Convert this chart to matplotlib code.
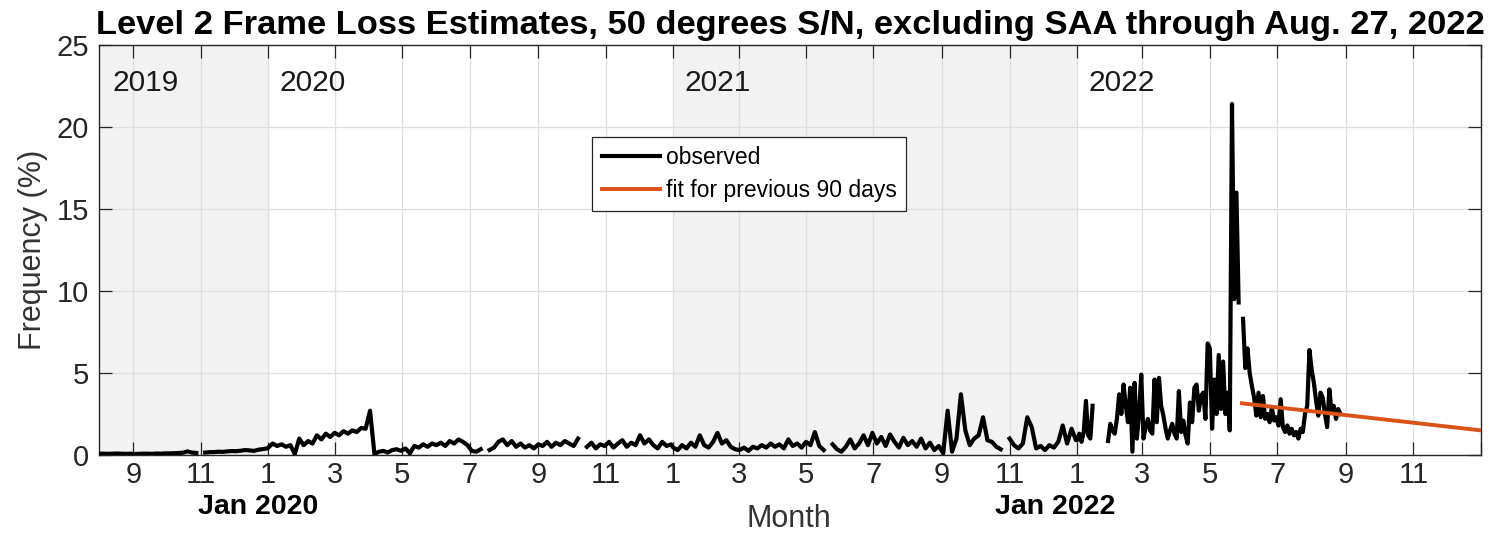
import numpy as np
import pandas as pd
import matplotlib
matplotlib.use('Agg')
import matplotlib.pyplot as plt
import matplotlib.dates as mdates
from matplotlib.ticker import FuncFormatter, MultipleLocator

plt.rcParams['font.family'] = ['Liberation Sans', 'DejaVu Sans']

# frame loss (%) sampled every 4 days through 2021, every 2 days in 2022
# nan = no data for that day
loss_2019 = [0.08, 0.08, 0.07, 0.08, 0.09, 0.08, 0.07, 0.08,
             0.06, 0.07, 0.08, 0.08, 0.07, 0.09, 0.08, 0.10,
             0.10, 0.11, 0.12, 0.14, 0.22, 0.15, 0.12, np.nan,
             0.15, 0.17, 0.18, 0.20, 0.19, 0.22, 0.24, 0.23,
             0.26, 0.30, 0.28, 0.25, 0.32, 0.36, 0.40]

loss_2020 = [0.45, 0.70, 0.55, 0.65, 0.50, 0.60, 0.05, 1.00,
             0.60, 0.85, 0.70, 1.20, 0.95, 1.30, 1.10,
             1.35, 1.20, 1.45, 1.30, 1.50, 1.40, 1.65, 1.60, 2.70,
             0.05, 0.20, 0.25, 0.15, 0.30, 0.35, 0.25,
             0.40, 0.10, 0.55, 0.45, 0.65, 0.50, 0.70,
             0.60, 0.75, 0.55, 0.85, 0.70, 0.95, 0.80, 0.60,
             0.25, 0.20, 0.35, np.nan, 0.30, 0.45, 0.80,
             0.95, 0.60, 0.85, 0.50, 0.70, 0.45, 0.60, 0.40,
             0.65, 0.55, 0.80, 0.50, 0.75, 0.60, 0.85, 0.70,
             0.55, 1.00, np.nan, 0.50, 0.75, 0.40, 0.65, 0.55,
             0.80, 0.45, 0.70, 0.90, 0.50, 0.75, 0.60,
             1.20, 0.70, 0.95, 0.60, 0.40, 0.80, 0.55, 0.65]

loss_2021 = [0.45, 0.30, 0.60, 0.40, 0.75, 0.50, 1.20, 0.60,
             0.45, 0.80, 1.35, 0.70, 0.90, 0.50, 0.35,
             0.30, 0.45, 0.25, 0.50, 0.40, 0.60, 0.45, 0.70,
             0.50, 0.65, 0.40, 0.95, 0.55, 0.70, 0.45,
             0.80, 0.60, 1.40, 0.55, 0.30, np.nan, 0.65, 0.35,
             0.20, 0.50, 0.95, 0.40, 0.70, 1.20, 0.60, 1.35,
             0.70, 1.10, 0.55, 1.25, 0.80, 0.45, 1.05, 0.60,
             0.85, 0.50, 1.00, 0.40, 0.75, 0.30, 0.55, 0.10,
             2.70, 0.20, 1.00, 3.70, 1.50, 0.60, 1.00,
             1.20, 2.30, 0.90, 0.80, 0.50, 0.35, np.nan, 1.00,
             0.60, 0.40, 0.70, 2.30, 1.70, 0.40, 0.55,
             0.30, 0.60, 0.45, 0.80, 1.80, 0.70, 1.60, 0.90]

loss_2022 = [0.9, 1.3, 0.8, 1.4, 3.3, 1.2, 1.0, 3.0, np.nan, np.nan,
             np.nan, np.nan, np.nan, np.nan, 0.85, 1.9, 1.5, 1.3, 2.2, 3.7,
             2.5, 4.3, 3.0, 2.0, 4.1, 0.2, 4.4, 1.0, 2.5, 4.9,
             1.0, 1.7, 2.2, 1.5, 1.3, 4.6, 2.0, 4.7, 3.0, 2.4,
             1.6, 1.0, 1.5, 1.9, 1.3, 1.0, 3.9, 1.4, 2.1, 1.2,
             0.7, 3.2, 2.0, 4.1, 4.3, 2.7, 3.6, 3.8, 2.2, 6.8,
             6.5, 1.6, 4.6, 2.5, 6.1, 2.8, 5.7, 2.5, 3.8, 1.5,
             21.4, 9.5, 16.0, 9.3, np.nan, 8.3, 5.3, 6.5, 5.0, 4.2,
             3.5, 2.4, 3.8, 2.3, 3.6, 2.2, 2.5, 2.0, 2.9, 2.1,
             2.3, 1.8, 3.4, 1.7, 1.4, 1.8, 1.3, 1.6, 1.2, 1.4,
             1.0, 1.6, 1.4, 2.5, 3.0, 6.4, 5.2, 4.4, 3.3, 2.4,
             3.8, 3.5, 2.5, 1.7, 4.0, 2.6, 3.0, 2.2, 2.8, 2.5]

# linear fit of the last 90 days, carried to the end of the year
fit_dates = ['2022-05-30', '2023-01-01']
fit_values = [3.15, 1.5]

year_labels = ['2019', '2020', '2021', '2022']
year_label_dates = ['2019-08-13', '2020-01-11', '2021-01-11', '2022-01-11']
shaded_spans = [('2019-08-01', '2020-01-01'), ('2021-01-01', '2022-01-01')]

# build one time series out of the yearly pieces
idx = pd.date_range('2019-08-01', periods=len(loss_2019), freq='4D')
idx = idx.append(pd.date_range('2020-01-01', periods=len(loss_2020), freq='4D'))
idx = idx.append(pd.date_range('2021-01-01', periods=len(loss_2021), freq='4D'))
idx = idx.append(pd.date_range('2022-01-01', periods=len(loss_2022), freq='2D'))
obs = pd.Series(np.concatenate([loss_2019, loss_2020, loss_2021, loss_2022]), index=idx)

fig = plt.figure(figsize=(14.95, 5.38), dpi=100)
ax = fig.add_axes([0.0662, 0.1543, 0.9244, 0.7621])

for s, e in shaded_spans:
    ax.axvspan(pd.Timestamp(s), pd.Timestamp(e), color='#f2f2f2', lw=0, zorder=1)

ax.plot(obs.index, obs.values, color='k', lw=3.0, label='observed', zorder=3)
ax.plot(pd.to_datetime(fit_dates), fit_values, color='#D95319', lw=2.8,
        label='fit for previous 90 days', zorder=4)

for lab, d in zip(year_labels, year_label_dates):
    ax.text(pd.Timestamp(d), 22.7, lab, fontsize=21.5, color='#1a1a1a', ha='left', va='center')

xmin, xmax = pd.Timestamp('2019-08-01'), pd.Timestamp('2023-01-01')
ax.set_xlim(xmin, xmax)
ax.set_ylim(0, 25)
ax.yaxis.set_major_locator(MultipleLocator(5))
ax.xaxis.set_major_locator(mdates.MonthLocator(bymonth=[1, 3, 5, 7, 9, 11]))

# no label on the tick sitting on the right edge
def month_fmt(x, pos):
    if x >= mdates.date2num(xmax) - 1:
        return ''
    return str(mdates.num2date(x).month)

ax.xaxis.set_major_formatter(FuncFormatter(month_fmt))

ax.grid(True, color='#dedede', lw=0.9)
ax.tick_params(direction='in', length=9.5, width=0.9, top=True, right=True,
               labelsize=21, color='#262626', labelcolor='#262626')
ax.tick_params(axis='x', pad=4)
ax.tick_params(axis='y', pad=7)
for sp in ax.spines.values():
    sp.set_color('#262626')
    sp.set_linewidth(1.0)

ax.set_ylabel('Frequency (%)', fontsize=22, color='#333333', labelpad=6)
ax.set_title('Level 2 Frame Loss Estimates, 50 degrees S/N, excluding SAA through Aug. 27, 2022',
             fontsize=24.8, fontweight='bold', pad=8)

fig.text(0.528, 0.036, 'Month', fontsize=22, color='#333333', ha='center', va='center')
fig.text(0.1725, 0.058, 'Jan 2020', fontsize=20.5, fontweight='bold', ha='center', va='center')
fig.text(0.7057, 0.058, 'Jan 2022', fontsize=20.5, fontweight='bold', ha='center', va='center')

leg = ax.legend(loc='upper left', bbox_to_anchor=(0.357, 0.776), fontsize=16.5,
                frameon=True, fancybox=False, framealpha=1, edgecolor='#262626',
                handlelength=2.55, handletextpad=0.25, borderpad=0.4, labelspacing=0.45,
                borderaxespad=0)
leg.get_frame().set_linewidth(0.9)

fig.savefig('out.png', dpi=100)
